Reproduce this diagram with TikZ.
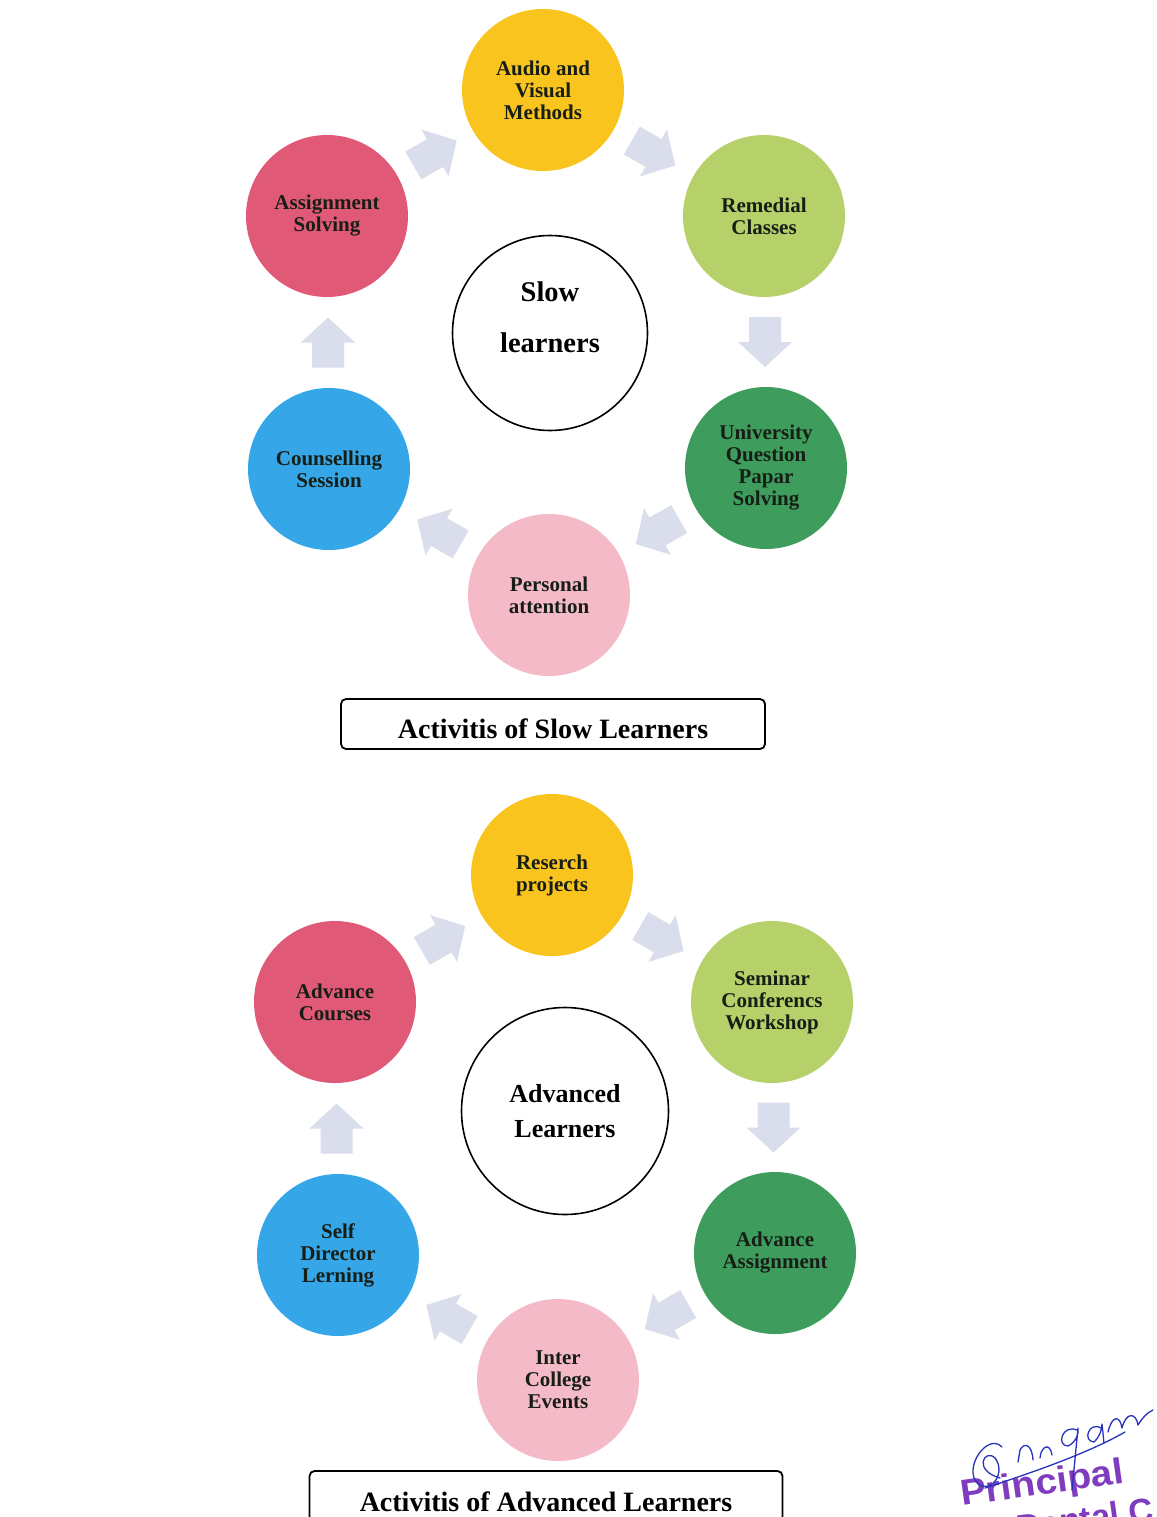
\documentclass[tikz,border=0pt]{standalone}
\usepackage{fontspec}
\setmainfont{Liberation Serif}
\newfontfamily\stampfont{Liberation Sans}
\usetikzlibrary{calc}

\definecolor{cyellow}{RGB}{250,196,30}
\definecolor{clgreen}{RGB}{182,208,106}
\definecolor{cdgreen}{RGB}{62,156,92}
\definecolor{cpink}{RGB}{244,186,200}
\definecolor{cblue}{RGB}{53,167,232}
\definecolor{cred}{RGB}{224,90,120}
\definecolor{ink}{RGB}{22,30,22}
\definecolor{blkfill}{RGB}{217,221,236}
\definecolor{stampink}{RGB}{128,60,190}
\definecolor{penblue}{RGB}{40,50,190}

\tikzset{
bub/.style={circle, minimum size=162pt, inner sep=0pt, align=center, text=ink,
  font=\fontsize{21}{22}\selectfont\bfseries},
hub/.style={circle, draw=black, line width=1.6pt, fill=white, inner sep=0pt, align=center},
ttl/.style={draw=black, line width=1.8pt, rounded corners=5pt, fill=white, text height=28pt, text depth=0pt,
  font=\fontsize{28}{30}\selectfont\bfseries},
sig/.style={draw=penblue, line width=1.3pt, line cap=round, line join=round}
}

\begin{document}
\begin{tikzpicture}[x=1pt,y=-1pt]
\useasboundingbox (0,0) rectangle (1156,1517);
\fill[white] (0,0) rectangle (1156,1517);
\clip (0,0) rectangle (1156,1517);
\def\blk#1#2#3{
\fill[blkfill, shift={($(#1)!0.5!(#2)$)}, rotate=#3] (-25,-16) -- (0,-16) -- (0,-27) -- (25,0) -- (0,27) -- (0,16) -- (-25,16) -- cycle;
}
% slow learners
\node[bub, fill=cyellow] (avm) at (543,90) {Audio and\\Visual\\Methods};
\node[bub, fill=clgreen] (rem) at (764,216) {Remedial\\Classes};
\node[bub, fill=cdgreen] (uqp) at (766,468) {University\\Question\\Papar\\Solving};
\node[bub, fill=cpink] (pat) at (549,595) {Personal\\attention};
\node[bub, fill=cblue] (cns) at (329,469) {Counselling\\Session};
\node[bub, fill=cred] (asg) at (327,216) {Assignment\\Solving};
\node[hub, minimum size=195pt] (slow) at (550,333) {};
\node[align=center, font=\fontsize{28.5}{51}\selectfont\bfseries] (slowtxt) at (550,317) {Slow\\learners};
\blk{asg}{avm}{30}
\blk{avm}{rem}{-30}
\blk{rem}{uqp}{-90}
\blk{uqp}{pat}{210}
\blk{pat}{cns}{150}
\blk{cns}{asg}{90}
\node[ttl, minimum width=424pt, minimum height=50pt] (slowttl) at (553,724) {Activitis of Slow Learners};
% advanced learners
\node[bub, fill=cyellow] (rsp) at (552,875) {Reserch\\projects};
\node[bub, fill=clgreen] (scw) at (772,1002) {Seminar\\Conferencs\\Workshop};
\node[bub, fill=cdgreen] (ads) at (775,1253) {Advance\\Assignment};
\node[bub, fill=cpink] (ice) at (558,1380) {Inter\\College\\Events};
\node[bub, fill=cblue] (sdl) at (338,1255) {Self\\Director\\Lerning};
\node[bub, fill=cred] (adc) at (335,1002) {Advance\\Courses};
\node[hub, minimum size=207pt, font=\fontsize{26}{35}\selectfont\bfseries] (adv) at (565,1111) {Advanced\\Learners};
\blk{adc}{rsp}{30}
\blk{rsp}{scw}{-30}
\blk{scw}{ads}{-90}
\blk{ads}{ice}{210}
\blk{ice}{sdl}{150}
\blk{sdl}{adc}{90}
\node[ttl, minimum width=473pt, minimum height=52pt] (advttl) at (546,1497) {Activitis of Advanced Learners};
% stamp
\node[rotate=8, anchor=base west, text=stampink, inner sep=0pt, xscale=1.08,
  font=\stampfont\fontsize{36}{36}\selectfont\bfseries] (stp) at (962,1506) {Principal};
\node[rotate=8, anchor=base west, text=stampink, inner sep=0pt,
  font=\stampfont\fontsize{34}{34}\selectfont\bfseries] (stpb) at (1018,1540) {Dental C};
\draw[sig] (1002,1447) .. controls (988,1432) and (962,1468) .. (978,1484) .. controls (992,1494) and (1006,1472) .. (995,1458) .. controls (985,1448) and (972,1470) .. (1000,1478);
\draw[sig] (1018,1462) -- (1020,1450) .. controls (1024,1442) and (1032,1444) .. (1033,1460);
\draw[sig] (1040,1458) .. controls (1041,1446) and (1050,1442) .. (1052,1455);
\draw[sig] (1077,1430) .. controls (1062,1424) and (1056,1446) .. (1068,1446) .. controls (1076,1442) and (1079,1434) .. (1078,1428) -- (1072,1490);
\draw[sig] (1101,1428) .. controls (1089,1421) and (1082,1441) .. (1094,1442) .. controls (1099,1438) and (1102,1430) .. (1102,1424) -- (1104,1443);
\draw[sig] (1108,1432) .. controls (1112,1415) and (1120,1415) .. (1122,1428) .. controls (1126,1412) and (1136,1412) .. (1138,1425) .. controls (1142,1418) and (1148,1412) .. (1153,1410);
\draw[sig] (985,1488) .. controls (1040,1470) and (1090,1452) .. (1125,1432);
\end{tikzpicture}
\end{document}
